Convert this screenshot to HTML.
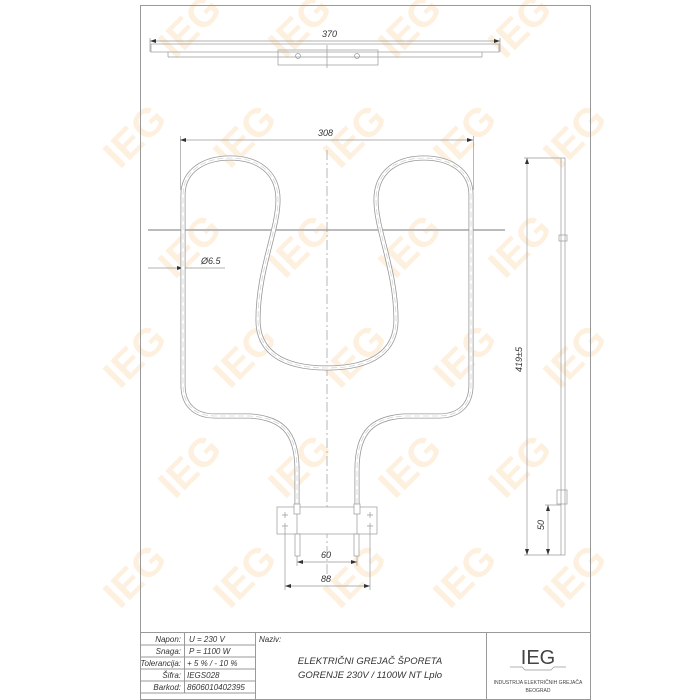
<!DOCTYPE html>
<html><head><meta charset="utf-8"><style>
body{margin:0;background:#fff;width:700px;height:700px;overflow:hidden;font-family:"Liberation Sans",sans-serif}
svg{position:absolute;left:0;top:0}
</style></head><body>
<svg width="700" height="700" viewBox="0 0 700 700" xmlns="http://www.w3.org/2000/svg" font-family="Liberation Sans, sans-serif">
<defs>
<path id="el" d="M297,517 L297,470 C297,430 280,418 250,416 L215,416 C195,416 183,405 183,385 L183,195 C183,170 205,158 230,158 C258,158 278,172 278,200 C278,230 258,270 258,320 C258,350 280,368 327,368 C374,368 396,350 396,320 C396,270 376,230 376,200 C376,172 396,158 424,158 C449,158 471,170 471,195 L471,385 C471,405 459,416 439,416 L404,416 C374,418 357,430 357,470 L357,517" fill="none"/>
</defs>
<g fill="#f5b35a" opacity="0.2" font-weight="bold" font-size="40">
<g id="wm">
<text transform="translate(175,60) rotate(-45)">IEG</text>
<text transform="translate(285,60) rotate(-45)">IEG</text>
<text transform="translate(395,60) rotate(-45)">IEG</text>
<text transform="translate(505,60) rotate(-45)">IEG</text>
<text transform="translate(120,170) rotate(-45)">IEG</text>
<text transform="translate(230,170) rotate(-45)">IEG</text>
<text transform="translate(340,170) rotate(-45)">IEG</text>
<text transform="translate(450,170) rotate(-45)">IEG</text>
<text transform="translate(560,170) rotate(-45)">IEG</text>
</g>
<use href="#wm" y="220"/>
<use href="#wm" y="440"/>
</g>
<g stroke="#999" fill="none" stroke-width="1">
<rect x="140.5" y="5.5" width="450" height="694"/>
<line x1="140" y1="632.5" x2="590" y2="632.5"/>
<line x1="140" y1="645" x2="255" y2="645"/><line x1="140" y1="657" x2="255" y2="657"/>
<line x1="140" y1="669" x2="255" y2="669"/><line x1="140" y1="681" x2="255" y2="681"/>
<line x1="184.5" y1="632" x2="184.5" y2="693"/><line x1="255.5" y1="632" x2="255.5" y2="700"/>
<line x1="486.5" y1="632" x2="486.5" y2="700"/>
<line x1="140" y1="693" x2="255" y2="693"/>
</g>
<!-- top view -->
<g stroke="#999" fill="none" stroke-width="0.7">
<line x1="150" y1="41" x2="500" y2="41"/>
<line x1="150" y1="38" x2="150" y2="52"/><line x1="500" y1="38" x2="500" y2="52"/>
<rect x="151" y="44" width="348" height="8"/>
<line x1="168" y1="52" x2="168" y2="57"/><line x1="168" y1="57" x2="482" y2="57"/><line x1="482" y1="52" x2="482" y2="57"/>
<rect x="278" y="50" width="100" height="15"/>
<circle cx="298" cy="56" r="2.5"/><circle cx="357" cy="56" r="2.5"/>
<line x1="327" y1="45" x2="327" y2="68"/>
</g>
<path d="M150,41 l6,-2 v4z M500,41 l-6,-2 v4z" fill="#333"/>
<text x="322" y="37" font-size="9" font-style="italic" fill="#333">370</text>
<!-- 308 dim -->
<g stroke="#999" stroke-width="0.7" fill="none">
<line x1="180" y1="140" x2="473" y2="140"/>
<line x1="180.5" y1="136" x2="180.5" y2="190"/><line x1="473.5" y1="136" x2="473.5" y2="190"/>
<line x1="148" y1="230" x2="505" y2="230" stroke="#bbb" stroke-width="2"/>
<line x1="327" y1="150" x2="327" y2="580" stroke-dasharray="10,3,2,3"/>
<line x1="148" y1="268" x2="225" y2="268"/>
</g>
<path d="M180,140 l6,-2 v4z M473,140 l-6,-2 v4z M183,268 l-6,-2 v4z" fill="#333"/>
<text x="318" y="136" font-size="9" font-style="italic" fill="#333">308</text>
<text x="201" y="264" font-size="9" font-style="italic" fill="#333">Ø6.5</text>
<!-- element -->
<use href="#el" stroke="#999" stroke-width="5"/>
<use href="#el" stroke="#fff" stroke-width="3.4"/>
<use href="#el" stroke="#c8c8c8" stroke-width="0.6" stroke-dasharray="6,3"/>
<g stroke="#999" stroke-width="0.7" fill="#fff">
<rect x="277" y="507" width="100" height="27"/>
<rect x="294" y="504" width="6" height="10"/><rect x="354" y="504" width="6" height="10"/>
<rect x="295" y="534" width="5" height="22"/><rect x="354" y="534" width="5" height="22"/>
<line x1="297" y1="514" x2="297" y2="534"/><line x1="357" y1="514" x2="357" y2="534"/>
</g>
<g stroke="#999" stroke-width="0.7" fill="none">
<path d="M282,515 h6 M285,512 v6 M282,526 h6 M285,523 v6 M367,515 h6 M370,512 v6 M367,526 h6 M370,523 v6"/>
<line x1="297" y1="556" x2="297" y2="566"/><line x1="357" y1="556" x2="357" y2="566"/>
<line x1="297" y1="562" x2="357" y2="562"/>
<line x1="285" y1="528" x2="285" y2="590"/><line x1="370" y1="528" x2="370" y2="590"/>
<line x1="285" y1="586" x2="370" y2="586"/>
</g>
<path d="M297,562 l6,-2 v4z M357,562 l-6,-2 v4z M285,586 l6,-2 v4z M370,586 l-6,-2 v4z" fill="#333"/>
<text x="321" y="558" font-size="9" font-style="italic" fill="#333">60</text>
<text x="321" y="582" font-size="9" font-style="italic" fill="#333">88</text>
<!-- side view -->
<g stroke="#999" stroke-width="0.7" fill="none">
<rect x="561" y="158" width="4" height="397"/>
<line x1="524" y1="158" x2="561" y2="158"/><line x1="524" y1="555" x2="561" y2="555"/>
<line x1="527" y1="158" x2="527" y2="555"/>
<line x1="545" y1="505" x2="561" y2="505"/>
<line x1="548" y1="505" x2="548" y2="555"/>
<rect x="557" y="490" width="10" height="14"/>
<rect x="559" y="235" width="8" height="6"/>
</g>
<path d="M527,158 l-2,6 h4z M527,555 l-2,-6 h4z M548,505 l-2,6 h4z M548,555 l-2,-6 h4z" fill="#333"/>
<text transform="translate(522,372) rotate(-90)" font-size="9" font-style="italic" fill="#333">419±5</text>
<text transform="translate(544,530) rotate(-90)" font-size="9" font-style="italic" fill="#333">50</text>
<!-- title block -->
<g font-size="8" font-style="italic" fill="#333">
<text x="181" y="642" text-anchor="end">Napon:</text>
<text x="181" y="654" text-anchor="end">Snaga:</text>
<text x="181" y="666" text-anchor="end">Tolerancija:</text>
<text x="181" y="678" text-anchor="end">Šifra:</text>
<text x="181" y="690" text-anchor="end">Barkod:</text>
<text x="189" y="642">U =  230  V</text>
<text x="189" y="654">P = 1100 W</text>
<text x="187" y="666">+ 5 %   /   - 10 %</text>
<text x="187" y="678">IEGS028</text>
<text x="187" y="690">8606010402395</text>
<text x="259" y="642">Naziv:</text>
<text x="370" y="664" text-anchor="middle" font-size="9.5">ELEKTRIČNI GREJAČ ŠPORETA</text>
<text x="370" y="678" text-anchor="middle" font-size="9.5">GORENJE 230V / 1100W NT Lplo</text>
</g>
<text x="538" y="664" text-anchor="middle" font-size="20" fill="#444">IEG</text>
<path d="M510,667 h12 l3,3 h26 l3,-3 h12" stroke="#999" fill="none" stroke-width="0.7"/>
<text x="538" y="684" text-anchor="middle" font-size="5" fill="#444">INDUSTRIJA ELEKTRIČNIH GREJAČA</text>
<text x="538" y="692" text-anchor="middle" font-size="5" fill="#444">BEOGRAD</text>
</svg>
</body></html>
